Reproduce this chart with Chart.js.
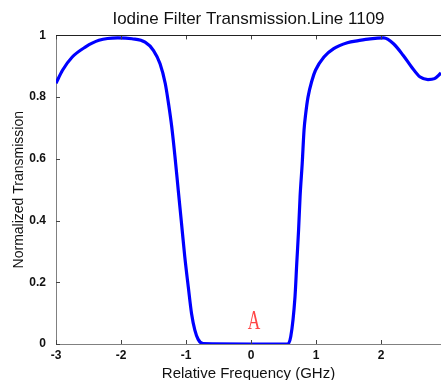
<!DOCTYPE html>
<html>
<head>
<meta charset="utf-8">
<script src="https://cdn.jsdelivr.net/npm/chart.js@4/dist/chart.umd.min.js"></script>
<style>
  html, body { margin: 0; padding: 0; background: #fff; }
  #wrap { width: 441px; height: 380px; }
</style>
</head>
<body>
<div id="wrap"><canvas id="iodineChart" width="441" height="380"></canvas></div>
<script>
// relative frequency (GHz) and normalized transmission
const freqs = [-3.00, -2.90, -2.75, -2.55, -2.34, -2.05, -1.83, -1.63, -1.50, -1.40,
  -1.32, -1.27, -1.22, -1.17, -1.12, -1.07, -1.02, -0.966, -0.916, -0.865,
  -0.814, -0.737, 0.00, 0.56, 0.61, 0.675, 0.702, 0.73, 0.753, 0.786,
  0.814, 0.84, 0.875, 0.936, 0.99, 1.12, 1.27, 1.48, 1.65, 1.83,
  2.04, 2.19, 2.34, 2.47, 2.60, 2.72, 2.82, 2.92];
const trans = [0.845, 0.887, 0.930, 0.962, 0.984, 0.992, 0.989, 0.978, 0.951, 0.908,
  0.844, 0.779, 0.703, 0.606, 0.498, 0.391, 0.283, 0.185, 0.099, 0.045,
  0.015, 0.001, 0.000, 0.000, 0.024, 0.153, 0.261, 0.369, 0.477, 0.585,
  0.693, 0.747, 0.800, 0.854, 0.887, 0.930, 0.957, 0.976, 0.983, 0.989,
  0.992, 0.973, 0.935, 0.897, 0.865, 0.857, 0.860, 0.878];

const xTicks = [-3, -2, -1, 0, 1, 2];
const yTicks = [0, 0.2, 0.4, 0.6, 0.8, 1];

// the red "A" mark near the bottom of the dip
const markText = ['A'];
const markAt = [[0.046, 0.049]];

const tickFont = { family: 'Liberation Sans, Arial, sans-serif', size: 12, weight: 'bold' };

// MATLAB style inward tick marks, top box line and the "A" mark
const axesDecor = {
  id: 'axesDecor',
  afterDatasetsDraw(chart) {
    const { ctx, chartArea, scales } = chart;
    const len = 4;
    ctx.save();
    ctx.lineWidth = 1;
    ctx.strokeStyle = '#444';
    xTicks.forEach(v => {
      const px = Math.round(scales.x.getPixelForValue(v)) + 0.5;
      ctx.beginPath();
      ctx.moveTo(px, chartArea.bottom);
      ctx.lineTo(px, chartArea.bottom - len);
      ctx.moveTo(px, chartArea.top);
      ctx.lineTo(px, chartArea.top + len);
      ctx.stroke();
    });
    yTicks.forEach(v => {
      const py = Math.round(scales.y.getPixelForValue(v)) + 0.5;
      ctx.beginPath();
      ctx.moveTo(chartArea.left, py);
      ctx.lineTo(chartArea.left + len, py);
      ctx.stroke();
    });
    ctx.strokeStyle = '#222';
    ctx.beginPath();
    ctx.moveTo(chartArea.left, Math.round(chartArea.top) + 0.5);
    ctx.lineTo(chartArea.right, Math.round(chartArea.top) + 0.5);
    ctx.stroke();

    markText.forEach((t, i) => {
      const px = scales.x.getPixelForValue(markAt[i][0]);
      const py = scales.y.getPixelForValue(markAt[i][1]);
      ctx.save();
      ctx.translate(px, py);
      ctx.scale(0.62, 1);
      ctx.fillStyle = '#ff4646';
      ctx.font = '28px "Liberation Serif", "Times New Roman", serif';
      ctx.textAlign = 'center';
      ctx.textBaseline = 'alphabetic';
      ctx.fillText(t, 0, 0);
      ctx.restore();
    });
    ctx.restore();
  }
};

const data = {
  datasets: [{
    data: freqs.map((f, i) => ({ x: f, y: trans[i] })),
    borderColor: '#0000ff',
    borderWidth: 3.2,
    pointRadius: 0,
    cubicInterpolationMode: 'monotone',
    fill: false
  }]
};

const options = {
  responsive: false,
  animation: false,
  layout: { padding: 0 },
  plugins: {
    legend: { display: false },
    tooltip: { enabled: false },
    title: {
      display: true,
      text: 'Iodine Filter Transmission.Line 1109',
      color: '#111',
      fullSize: false,
      font: { family: 'Liberation Sans, Arial, sans-serif', size: 17, weight: 'normal' },
      padding: { top: 9, bottom: 6 }
    }
  },
  scales: {
    x: {
      type: 'linear',
      min: -3,
      max: 2.92,
      afterFit: s => { s.height = 36; },
      afterBuildTicks: s => { s.ticks = xTicks.map(v => ({ value: v })); },
      border: { color: '#808080', width: 1 },
      grid: { drawOnChartArea: false, drawTicks: false },
      ticks: { color: '#111', font: tickFont, padding: 4, maxRotation: 0 },
      title: {
        display: true,
        text: 'Relative Frequency (GHz)',
        color: '#111',
        font: { family: 'Liberation Sans, Arial, sans-serif', size: 15 },
        padding: { top: 0, bottom: -3 }
      }
    },
    y: {
      min: 0,
      max: 1,
      afterFit: s => { s.width = 56; },
      afterBuildTicks: s => { s.ticks = yTicks.map(v => ({ value: v })); },
      border: { color: '#808080', width: 1 },
      grid: { drawOnChartArea: false, drawTicks: false },
      ticks: { color: '#111', font: tickFont, padding: 10, callback: v => String(v) },
      title: {
        display: true,
        text: 'Normalized Transmission',
        color: '#111',
        font: { family: 'Liberation Sans, Arial, sans-serif', size: 14 },
        padding: { top: 11, bottom: 0 }
      }
    }
  }
};

new Chart(document.getElementById('iodineChart'), {
  type: 'line',
  data,
  options,
  plugins: [axesDecor]
});
</script>
</body>
</html>
